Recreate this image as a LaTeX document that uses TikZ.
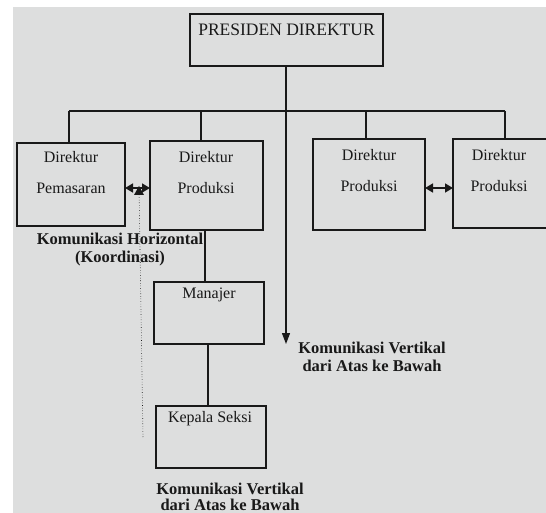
\documentclass[tikz,border=0pt]{standalone}
\usepackage{fontspec}
\setmainfont{Liberation Serif}
\usetikzlibrary{arrows.meta}
\definecolor{paper}{RGB}{221,222,222}
\definecolor{ink}{RGB}{25,25,25}
\begin{document}
\begin{tikzpicture}[x=1pt,y=-1pt,
  box/.style={draw=ink,line width=1.1pt,fill=none},
  lbl/.style={font=\fontsize{16}{16}\selectfont,text=ink,inner sep=0pt},
  blbl/.style={font=\bfseries\fontsize{16.5}{18}\selectfont,text=ink,align=center,inner sep=0pt},
  conn/.style={draw=ink,line width=1.1pt},
  dbl/.style={draw=ink,line width=1.5pt,{Triangle[length=8pt,width=9pt]}-{Triangle[length=8pt,width=9pt]}}]
\useasboundingbox (0,0) rectangle (546,513);
\fill[white] (0,0) rectangle (546,513);
\fill[paper] (13,7) rectangle (546,513);
\begin{scope}
\clip (0,0) rectangle (546,513);
% boxes
\draw[box] (190,14) rectangle (383,66);
\node[lbl,font=\fontsize{17.5}{17.5}\selectfont] (pd) at (286.5,30) {PRESIDEN DIREKTUR};
\coordinate (pdb) at (286,66);
\draw[box] (17,143) rectangle (125,226);
\draw[box] (150,141) rectangle (263,230);
\draw[box] (313,139) rectangle (425,230);
\draw[box] (453,139) rectangle (560,228);
\draw[box] (154,282) rectangle (264,344);
\draw[box] (156,406) rectangle (266,468);
\end{scope}
% labels in boxes
\node[lbl] (d1a) at (71,157) {Direktur};
\node[lbl] (d1b) at (71,188) {Pemasaran};
\node[lbl] (d2a) at (206,157) {Direktur};
\node[lbl] (d2b) at (206,188) {Produksi};
\node[lbl] (d3a) at (369,155) {Direktur};
\node[lbl] (d3b) at (369,186) {Produksi};
\node[lbl] (d4a) at (499,155) {Direktur};
\node[lbl] (d4b) at (499,186) {Produksi};
\node[lbl] (mj) at (209,295) {Manajer};
\node[lbl] (ks) at (210,419) {Kepala Seksi};
% tree connectors
\coordinate (hl) at (69,111);
\coordinate (hr) at (505,111);
\draw[conn] (hl) -- (hr);
\draw[conn] (hl) -- (69,143);
\draw[conn] (201,111) -- (201,141);
\draw[conn] (366,111) -- (366,139);
\draw[conn] (505,111) -- (505,139);
\draw[conn] (205,230) -- (205,282);
\draw[conn] (208,344) -- (208,406);
% main vertical arrow
\coordinate (va) at (286,344);
\draw[draw=ink,line width=1.3pt,-{Triangle[length=11pt,width=8pt]}] (pdb) -- (va);
% horizontal double arrows
\coordinate (a1l) at (125,188);
\coordinate (a1r) at (150,188);
\draw[dbl] (a1l) -- (a1r);
\coordinate (a2l) at (425,188);
\coordinate (a2r) at (453,188);
\draw[dbl] (a2l) -- (a2r);
% dotted line with up triangle
\coordinate (dt) at (139,186);
\coordinate (db) at (143,437);
\draw[ink,line width=0.6pt,dotted] (db) -- (dt);
\fill[ink] (dt) -- ++(-5,9) -- ++(10,0) -- cycle;
% bold labels
\node[blbl] (kh) at (120,250) {Komunikasi Horizontal\\(Koordinasi)};
\node[blbl] (kv1) at (372,357) {Komunikasi Vertikal\\dari Atas ke Bawah};
\node[blbl,font=\bfseries\fontsize{16.5}{16}\selectfont] (kv2) at (230,497) {Komunikasi Vertikal\\dari Atas ke Bawah};
\end{tikzpicture}
\end{document}
